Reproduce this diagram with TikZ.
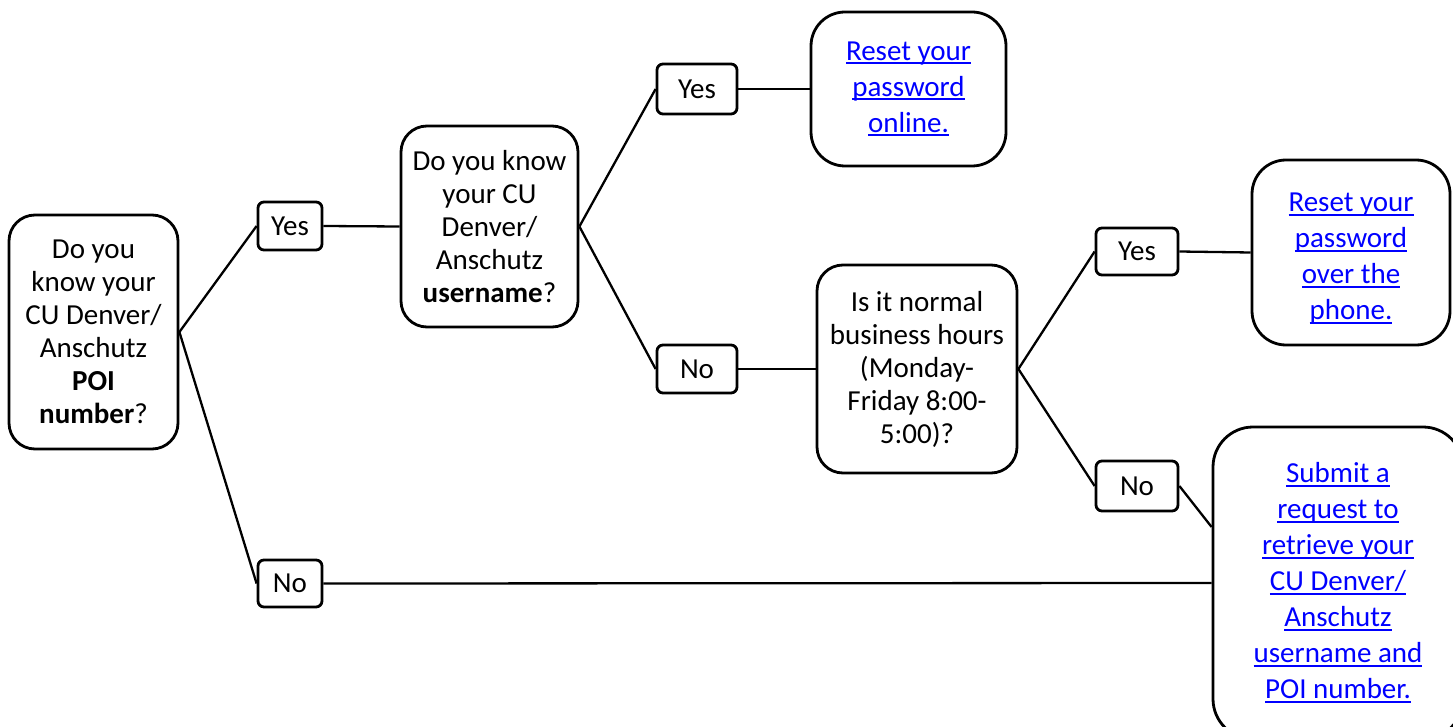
\documentclass[tikz,border=0pt]{standalone}
\usepackage{fontspec}
\setmainfont{Carlito}
\definecolor{linkblue}{RGB}{0,0,255}
\newcommand\lnkline[1]{\setbox0\hbox{#1}\rlap{\vrule height -2pt depth 4.2pt width \wd0}\box0}
\newcommand\qfont{\fontsize{29}{33}\selectfont}
\newcommand\lfont{\fontsize{29}{36}\selectfont}
\begin{document}
\begin{tikzpicture}[x=1pt,y=-1pt,line width=2.8pt,
  qbox/.style={draw, rounded corners=26pt, align=center, font=\qfont, inner sep=0pt},
  lbox/.style={draw, rounded corners=34pt, align=center, font=\lfont, text=linkblue, inner sep=0pt},
  sbox/.style={draw, rounded corners=6pt, font=\qfont, inner sep=0pt},
  conn/.style={line width=2.3pt}]
\useasboundingbox (0,0) rectangle (1453,727);
\begin{scope}
\clip (0,0) rectangle (1453,727);
% question boxes
\node[qbox, minimum width=169pt, minimum height=234pt] (A) at (93.5,332)
  {Do you\\know your\\CU Denver/\\Anschutz\\\textbf{POI}\\\textbf{number}?};
\node[qbox, minimum width=177pt, minimum height=201pt] (B) at (489.5,226.5)
  {Do you know\\your CU\\Denver/\\Anschutz\\\textbf{username}?};
\node[qbox, minimum width=200pt, minimum height=208pt] (D) at (917,369)
  {Is it normal\\business hours\\(Monday-\\Friday 8:00-\\5:00)?};
% link boxes
\node[lbox, minimum width=195pt, minimum height=154pt] (C) at (908.5,89)
  {\lnkline{Reset your}\\\lnkline{password}\\\lnkline{online.}};
\node[lbox, minimum width=198pt, minimum height=185pt] (E) at (1351,252.5)
  {\rule{0pt}{31pt}\lnkline{Reset your}\\\lnkline{password}\\\lnkline{over the}\\\lnkline{phone.}};
\node[lbox, rounded corners=40pt, minimum width=250pt, minimum height=312pt] (F) at (1338,583)
  {\lnkline{Submit a}\\\lnkline{request to}\\\lnkline{retrieve your}\\\lnkline{CU Denver/}\\\lnkline{Anschutz}\\\lnkline{username and}\\\lnkline{POI number.}};
% answer boxes
\node[sbox, minimum width=64pt, minimum height=48pt] (y1) at (290,226) {Yes};
\node[sbox, minimum width=64pt, minimum height=47pt] (n1) at (290,583.5) {No};
\node[sbox, minimum width=80pt, minimum height=50pt] (y2) at (697,89) {Yes};
\node[sbox, minimum width=80pt, minimum height=48pt] (n2) at (697,369) {No};
\node[sbox, minimum width=82pt, minimum height=47pt] (y3) at (1137,251.5) {Yes};
\node[sbox, minimum width=82pt, minimum height=50pt] (n3) at (1137,486) {No};
% connectors
\draw[conn] (A.east) -- (y1.west);
\draw[conn] (A.east) -- (n1.west);
\draw[conn] (y1.east) -- (B.west);
\draw[conn] (B.east) -- (y2.west);
\draw[conn] (B.east) -- (n2.west);
\draw[conn] (y2.east) -- (C.west);
\draw[conn] (n2.east) -- (D.west);
\draw[conn] (D.east) -- (y3.west);
\draw[conn] (D.east) -- (n3.west);
\draw[conn] (y3.east) -- (E.west);
\draw[conn] (n3.east) -- ([yshift=56pt]F.west);
\draw[conn] (n1.east) -- (F.west);
\end{scope}
\end{tikzpicture}
\end{document}
